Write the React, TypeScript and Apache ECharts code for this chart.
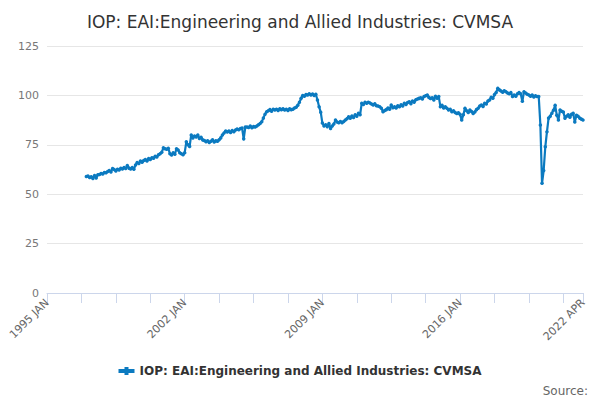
import { useEffect, useRef } from 'react';
import * as echarts from 'echarts';

const MONTHS = ['JAN', 'FEB', 'MAR', 'APR', 'MAY', 'JUN', 'JUL', 'AUG', 'SEP', 'OCT', 'NOV', 'DEC'];
const FIRST_YEAR = 1995;
const DATA_START_YEAR = 1997;

const y1997 = [59, 59.2, 58.5, 58.8, 58, 59.5, 58.2, 59.8, 60, 60.5, 60.2, 61];
const y1998 = [60.8, 61.5, 62, 61.2, 63, 62.5, 61.8, 62.6, 62.2, 63.1, 62.8, 63.5];
const y1999 = [63, 64.5, 63.2, 62.8, 63.5, 62.6, 64.8, 66, 65.5, 66.8, 66.2, 67];
const y2000 = [67.5, 66.8, 68, 67.6, 68.5, 68.2, 69.2, 68.8, 70, 70.5, 71.2, 73.5];
const y2001 = [73, 72.8, 73.2, 70.5, 69.8, 71, 70.2, 73, 72.4, 71, 70.5, 70];
const y2002 = [71, 76.5, 75, 74.2, 80, 78.5, 79.5, 79, 80, 78.2, 78.8, 77.5];
const y2003 = [77.2, 76.6, 77, 76.2, 76.8, 77.5, 76.4, 77, 76.8, 77.6, 78.5, 80];
const y2004 = [81, 82, 81.5, 82, 81.2, 82.2, 81.6, 82.5, 83, 82.6, 83.2, 83.5];
const y2005 = [78, 84, 84, 83.8, 84.5, 83.6, 84.2, 84, 84.5, 85.2, 85.8, 86.7];
const y2006 = [88.5, 90.5, 91.7, 92.2, 92.8, 92, 93, 92.6, 93, 92.4, 93.2, 92.8];
const y2007 = [93.2, 92.6, 93, 92.4, 93.2, 92.8, 93, 93.6, 94, 95, 96.5, 98.5];
const y2008 = [100, 99.6, 100.4, 100.2, 100.8, 100.2, 100.7, 100, 100.6, 97.7, 94.3, 91.5];
const y2009 = [86, 84.5, 85.2, 84.2, 85.8, 83.3, 84.5, 85.5, 87.5, 86.5, 86.2, 86.8];
const y2010 = [86.2, 86.8, 87.5, 88.2, 89.2, 88.4, 89.6, 88.8, 90.2, 89.5, 90.9, 90.2];
const y2011 = [96, 95.4, 96.5, 96, 96.5, 96.2, 95.6, 95.2, 95.8, 94.8, 94.6, 94.3];
const y2012 = [93.5, 91.7, 92.4, 92.8, 93.6, 93, 95.1, 93.8, 94.2, 93.6, 94.8, 94.3];
const y2013 = [95.2, 94.6, 96, 95.4, 96.4, 96.8, 95.8, 97.2, 96.6, 97.8, 98.2, 98.5];
const y2014 = [98.8, 98.2, 99.4, 99.8, 100.2, 99, 98.4, 98.8, 97.7, 99.6, 98.6, 99.4];
const y2015 = [94.3, 95, 93.6, 94.2, 93.5, 92.6, 93, 91.7, 92.2, 91.4, 90.8, 91.2];
const y2016 = [90.4, 87.5, 90.2, 93.5, 92.2, 91.4, 92.6, 91.8, 90.9, 91.6, 92.8, 93.5];
const y2017 = [94.6, 95.1, 94.4, 96, 95.6, 97.2, 97.7, 99, 98.6, 100.4, 101.5, 103.6];
const y2018 = [102.8, 102.2, 101.6, 102.4, 101.9, 101.2, 100.8, 101.4, 99.4, 100.2, 99.6, 100.8];
const y2019 = [101.4, 100.8, 97, 101.9, 101.2, 100.6, 100.2, 99.6, 100.2, 99.2, 99.8, 99.4];
const y2020 = [99.4, 85, 55.5, 62, 74, 81.6, 88.5, 89.5, 91, 92.5, 95, 90];
const y2021 = [87.6, 92.6, 92, 91.6, 88.4, 89.5, 90.2, 89, 90.4, 91, 86.5, 90];
const y2022 = [89.5, 88.5, 88, 87.5];

const years = [y1997, y1998, y1999, y2000, y2001, y2002, y2003, y2004, y2005, y2006, y2007,
  y2008, y2009, y2010, y2011, y2012, y2013, y2014, y2015, y2016, y2017, y2018, y2019,
  y2020, y2021, y2022];

const categories: string[] = [];
for (let y = FIRST_YEAR; y <= 2022; y++) {
  for (let m = 0; m < 12; m++) {
    if (y === 2022 && m > 3) break;
    categories.push(`${y} ${MONTHS[m]}`);
  }
}
const values: (number | null)[] = [
  ...new Array((DATA_START_YEAR - FIRST_YEAR) * 12).fill(null),
  ...years.flat(),
];

const SERIES_NAME = 'IOP: EAI:Engineering and Allied Industries: CVMSA';

export default function App() {
  const ref = useRef<HTMLDivElement>(null);

  useEffect(() => {
    if (!ref.current) return;
    const chart = echarts.init(ref.current, undefined, { renderer: 'svg' });
    const last = categories.length - 1;
    chart.setOption({
      animation: false,
      textStyle: { fontFamily: 'DejaVu Sans' },
      title: {
        text: 'IOP: EAI:Engineering and Allied Industries: CVMSA',
        left: 'center',
        top: 8,
        textStyle: { fontSize: 17, fontWeight: 'normal', color: '#333' },
      },
      grid: { left: 47, right: 17, top: 46, bottom: 107 },
      xAxis: {
        type: 'category',
        data: categories,
        boundaryGap: false,
        axisLine: { lineStyle: { color: '#ccd6eb' } },
        axisTick: {
          lineStyle: { color: '#ccd6eb' },
          length: 10,
          interval: (i: number) => i % 21 === 0 || i === last,
        },
        axisLabel: {
          color: '#666',
          fontSize: 11,
          rotate: 45,
          interval: (i: number) => i % 84 === 0 || i === last,
        },
      },
      yAxis: {
        type: 'value',
        min: 0,
        max: 125,
        interval: 25,
        axisLabel: { color: '#777', fontSize: 11 },
        splitLine: { lineStyle: { color: '#e6e6e6' } },
      },
      legend: {
        bottom: 18,
        icon: 'path://M0,4 L8,4 L8,6 L0,6 Z M3,3 L5,3 L5,7 L3,7 Z',
        itemWidth: 16,
        itemHeight: 8,
        textStyle: { color: '#333', fontSize: 12, fontWeight: 'bold' },
        data: [SERIES_NAME],
      },
      graphic: [
        {
          type: 'text',
          right: 12,
          bottom: 3,
          style: { text: 'Source:', fill: '#666', fontSize: 12, fontFamily: 'DejaVu Sans' },
        },
      ],
      series: [
        {
          name: SERIES_NAME,
          type: 'line',
          data: values,
          color: '#0b7ac0',
          lineStyle: { width: 2.2 },
          symbol: 'circle',
          symbolSize: 3.5,
          showAllSymbol: true,
        },
      ],
    });
    return () => chart.dispose();
  }, []);

  return <div ref={ref} style={{ position: 'absolute', left: 0, top: 0, width: 600, height: 400 }} />;
}
